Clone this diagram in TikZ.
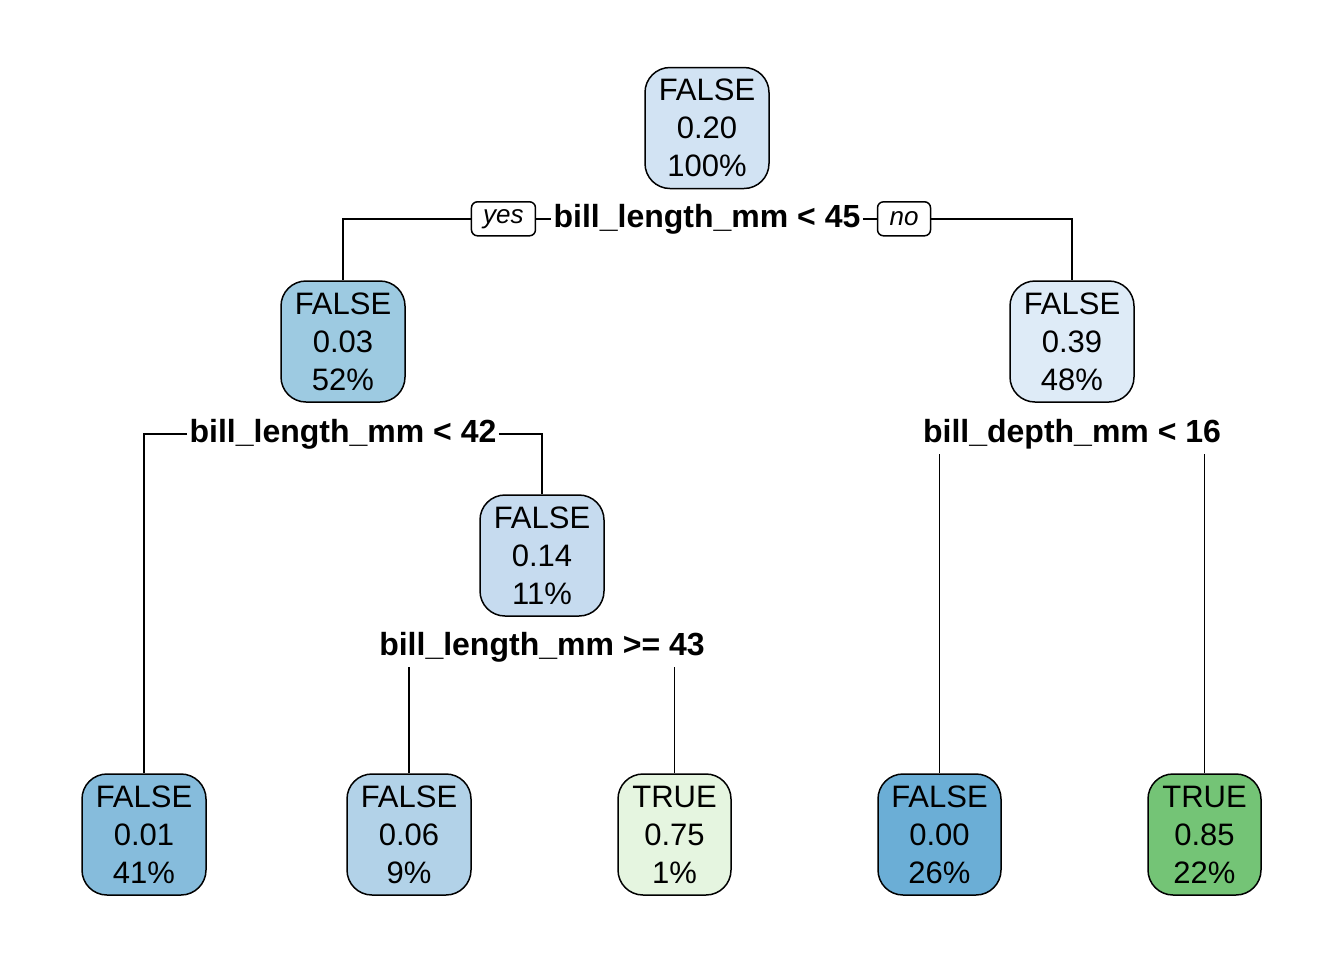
\documentclass[tikz,border=0pt]{standalone}
\usepackage{fontspec}
\setmainfont{Liberation Sans}
\usetikzlibrary{positioning, calc}
\definecolor{rootblue}{HTML}{D2E3F3}
\definecolor{midblue}{HTML}{9DCAE1}
\definecolor{paleblue}{HTML}{DEEBF7}
\definecolor{softblue}{HTML}{C6DBEF}
\definecolor{deepblue}{HTML}{86BCDC}
\definecolor{lightblue}{HTML}{B2D2E8}
\definecolor{strongblue}{HTML}{6BAED6}
\definecolor{palegreen}{HTML}{E5F5E0}
\definecolor{midgreen}{HTML}{74C476}
\tikzset{
    treenode/.style={draw, line width=0.75pt, rounded corners=12.5pt, align=center,
        minimum width=62pt, minimum height=60.5pt, inner sep=0pt,
        font=\fontsize{15.5}{19}\selectfont},
    splitlabel/.style={anchor=base, inner xsep=1pt, inner ysep=2.5pt,
        font=\fontsize{16}{19}\selectfont\bfseries},
    yesno/.style={draw, line width=0.75pt, rounded corners=3pt, inner sep=0pt,
        minimum width=32pt, minimum height=17pt,
        font=\fontsize{13}{15}\selectfont\itshape},
    edge/.style={line width=0.8pt}
}
\begin{document}
\begin{tikzpicture}[x=0.5pt, y=-0.5pt]
    \useasboundingbox (0,0) rectangle (1344,960);
    % Root node
    \node[treenode, fill=rootblue] (root) at (707,128) {FALSE\\0.20\\100\%};
    \node[splitlabel] (split1) at (707,227) {bill\_length\_mm < 45};
    \node[yesno, left=7.5pt of split1.west, anchor=east] (yes) {yes};
    \node[yesno, right=7pt of split1.east, anchor=west, minimum width=26.5pt] (no) {no};
    % Second level
    \node[treenode, fill=midblue] (n2) at (343,341.5) {FALSE\\0.03\\52\%};
    \node[treenode, fill=paleblue] (n3) at (1072,341.5) {FALSE\\0.39\\48\%};
    \node[splitlabel] (split2) at (343,442) {bill\_length\_mm < 42};
    \node[splitlabel] (split3) at (1072,442) {bill\_depth\_mm < 16};
    % Third level
    \node[treenode, fill=softblue] (n5) at (542,555.5) {FALSE\\0.14\\11\%};
    \node[splitlabel] (split4) at (542,655) {bill\_length\_mm >= 43};
    % Leaves
    \node[treenode, fill=deepblue] (leafA) at (144,834.5) {FALSE\\0.01\\41\%};
    \node[treenode, fill=lightblue] (leafB) at (409,834.5) {FALSE\\0.06\\9\%};
    \node[treenode, fill=palegreen, minimum width=56.5pt] (leafC) at (674.5,834.5) {TRUE\\0.75\\1\%};
    \node[treenode, fill=strongblue, minimum width=61.5pt] (leafD) at (939.5,834.5) {FALSE\\0.00\\26\%};
    \node[treenode, fill=midgreen, minimum width=56.5pt] (leafE) at (1204.5,834.5) {TRUE\\0.85\\22\%};
    % Connectors from the root split
    \draw[edge] (yes.west) -| (n2.north);
    \draw[edge] (yes.east) -- (split1.west);
    \draw[edge] (split1.east) -- (no.west);
    \draw[edge] (no.east) -| (n3.north);
    % Connectors from the left split
    \draw[edge] (split2.west) -| (leafA.north);
    \draw[edge] (split2.east) -| (n5.north);
    % Connectors hanging below the wide labels
    \draw[edge] (leafD.north |- split3.south) -- (leafD.north);
    \draw[edge] (leafE.north |- split3.south) -- (leafE.north);
    \draw[edge] (leafB.north |- split4.south) -- (leafB.north);
    \draw[edge] (leafC.north |- split4.south) -- (leafC.north);
\end{tikzpicture}
\end{document}
